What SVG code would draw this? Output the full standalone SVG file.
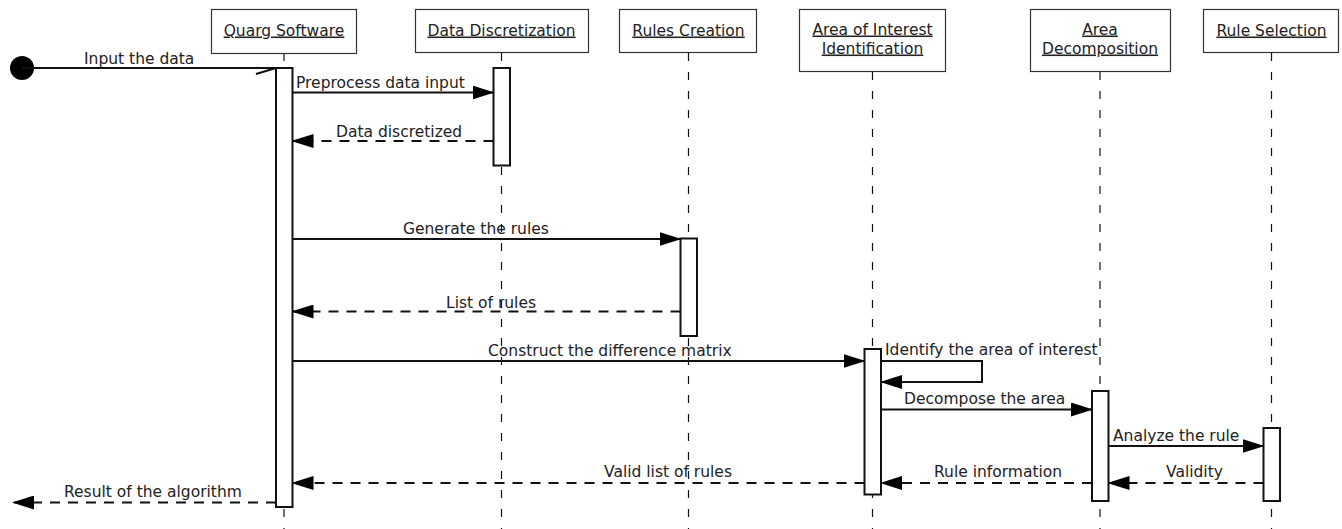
<svg xmlns="http://www.w3.org/2000/svg" width="1342" height="529" viewBox="0 0 1342 529">
<style>
text{font-family:"DejaVu Sans","Liberation Sans",sans-serif;font-size:15.5px;fill:#222}
.hd{fill:#fff;stroke:#333;stroke-width:1.2}
.ht{text-anchor:middle;text-decoration:underline}
.life{stroke:#111;stroke-width:1.2;stroke-dasharray:8 11;fill:none}
.act{fill:#fff;stroke:#111;stroke-width:2}
.msg{stroke:#111;stroke-width:2;fill:none}
.ret{stroke:#111;stroke-width:2;fill:none;stroke-dasharray:10 8}
</style>
<defs>
<marker id="ah" markerUnits="userSpaceOnUse" markerWidth="22" markerHeight="14" viewBox="0 0 22 14" refX="21" refY="7" orient="auto">
<path d="M0,0 L22,7 L0,14 z" fill="#000"/>
</marker>
</defs>
<rect width="1342" height="529" fill="#fff"/>
<g id="lifelines">
<line class="life" x1="284" y1="53" x2="284" y2="529"/>
<line class="life" x1="501.5" y1="53" x2="501.5" y2="529"/>
<line class="life" x1="688.5" y1="53" x2="688.5" y2="529"/>
<line class="life" x1="872.5" y1="72" x2="872.5" y2="529"/>
<line class="life" x1="1100" y1="72" x2="1100" y2="529"/>
<line class="life" x1="1271.5" y1="53" x2="1271.5" y2="529"/>
</g>
<g id="quarg">
<rect class="hd" x="211.5" y="9.5" width="145" height="44"/>
<text class="ht" x="284" y="35.5">Quarg Software</text>
<rect class="act" x="276" y="68" width="16.5" height="439"/>
</g>
<g id="discretization">
<rect class="hd" x="415.5" y="9.5" width="173" height="43"/>
<text class="ht" x="501.5" y="35.5">Data Discretization</text>
<rect class="act" x="493.5" y="68" width="16.5" height="97.5"/>
</g>
<g id="rules">
<rect class="hd" x="619.5" y="9.5" width="137" height="43"/>
<text class="ht" x="688.5" y="35.5">Rules Creation</text>
<rect class="act" x="680.5" y="238.5" width="16.5" height="97.5"/>
</g>
<g id="aoi">
<rect class="hd" x="799.5" y="9.5" width="146" height="62"/>
<text class="ht" x="872.5" y="34.5">Area of Interest</text>
<text class="ht" x="872.5" y="53.5">Identification</text>
<rect class="act" x="864.5" y="349" width="16.5" height="145.5"/>
</g>
<g id="decomposition">
<rect class="hd" x="1030.5" y="9.5" width="140" height="62"/>
<text class="ht" x="1100" y="34.5">Area</text>
<text class="ht" x="1100" y="53.5">Decomposition</text>
<rect class="act" x="1092" y="391" width="16.5" height="110"/>
</g>
<g id="selection">
<rect class="hd" x="1203.5" y="9.5" width="135" height="43"/>
<text class="ht" x="1271.5" y="35.5">Rule Selection</text>
<rect class="act" x="1263.5" y="428" width="16.5" height="73"/>
</g>
<g id="connectors">
<circle cx="22" cy="68" r="12" fill="#000"/>
<line class="msg" x1="22" y1="68" x2="276" y2="68"/>
<line class="msg" x1="256" y1="74" x2="276" y2="68"/>
<text x="84" y="64">Input the data</text>
<line class="msg" x1="292.5" y1="92.5" x2="493.5" y2="92.5" marker-end="url(#ah)"/>
<text x="296" y="88">Preprocess data input</text>
<line class="ret" x1="493.5" y1="141" x2="292.5" y2="141" marker-end="url(#ah)"/>
<text x="336" y="136.5">Data discretized</text>
<line class="msg" x1="292.5" y1="239" x2="680.5" y2="239" marker-end="url(#ah)"/>
<text x="403" y="233.5">Generate the rules</text>
<line class="ret" x1="680.5" y1="311.5" x2="292.5" y2="311.5" marker-end="url(#ah)"/>
<text x="446" y="307.5">List of rules</text>
<line class="msg" x1="292.5" y1="361" x2="864.5" y2="361" marker-end="url(#ah)"/>
<text x="488" y="356">Construct the difference matrix</text>
<path class="msg" d="M881,361 H982 V382 H881" marker-end="url(#ah)"/>
<text x="885" y="355">Identify the area of interest</text>
<line class="msg" x1="881" y1="409.5" x2="1092" y2="409.5" marker-end="url(#ah)"/>
<text x="904" y="403.5">Decompose the area</text>
<line class="msg" x1="1108.5" y1="446" x2="1263.5" y2="446" marker-end="url(#ah)"/>
<text x="1113" y="441">Analyze the rule</text>
<line class="ret" x1="1263.5" y1="483" x2="1108.5" y2="483" marker-end="url(#ah)"/>
<text x="1166" y="477">Validity</text>
<line class="ret" x1="1092" y1="483" x2="881" y2="483" marker-end="url(#ah)"/>
<text x="934" y="477">Rule information</text>
<line class="ret" x1="864.5" y1="483" x2="292.5" y2="483" marker-end="url(#ah)"/>
<text x="604" y="477">Valid list of rules</text>
<line class="ret" x1="276" y1="502.5" x2="13" y2="502.5" marker-end="url(#ah)"/>
<text x="64" y="497">Result of the algorithm</text>
</g>
</svg>
